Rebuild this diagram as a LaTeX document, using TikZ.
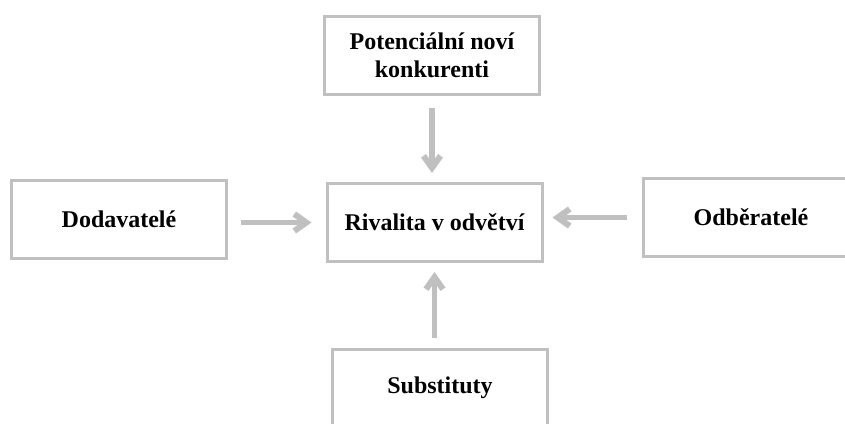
\documentclass[tikz,border=0pt]{standalone}
\usepackage{fontspec}
\setmainfont{Liberation Serif}
\usetikzlibrary{arrows.meta}
\definecolor{boxgrey}{RGB}{192,192,192}
\begin{document}
\begin{tikzpicture}[x=1pt,y=-1pt,
  box/.style={draw=boxgrey, line width=3pt, fill=white, minimum width=215pt, minimum height=78pt,
    align=center, font=\fontsize{24}{28}\selectfont\bfseries, inner sep=0pt},
  arr/.style={draw=boxgrey, line width=5.5pt, -{Straight Barb[length=12pt,width=17pt,line width=6pt]}}]
\clip (0,0) rectangle (845,423);
\useasboundingbox (0,0) rectangle (845,423);
\fill[white] (0,0) rectangle (845,423);
\node[box] (T) at (432,55) {Potenciální noví\\konkurenti};
\node[box] (C) at (434.5,222.5) {Rivalita v odvětví};
\node[box] (L) at (119,219.5) {Dodavatelé};
\node[box] (R) at (751,217.5) {Odběratelé};
\node[box] (B) at (440,388) {Substituty};
\draw[arr, shorten <=12pt, shorten >=9pt] (T.south) -- (T.south |- C.north);
\draw[arr, shorten <=10pt, shorten >=9pt] (B.north -| C.south) -- (C.south);
\draw[arr, shorten <=13pt, shorten >=14pt] (L.east |- C.west) -- (C.west);
\draw[arr, shorten <=15pt, shorten >=9pt] (R.west) -- (R.west -| C.east);
\end{tikzpicture}
\end{document}
